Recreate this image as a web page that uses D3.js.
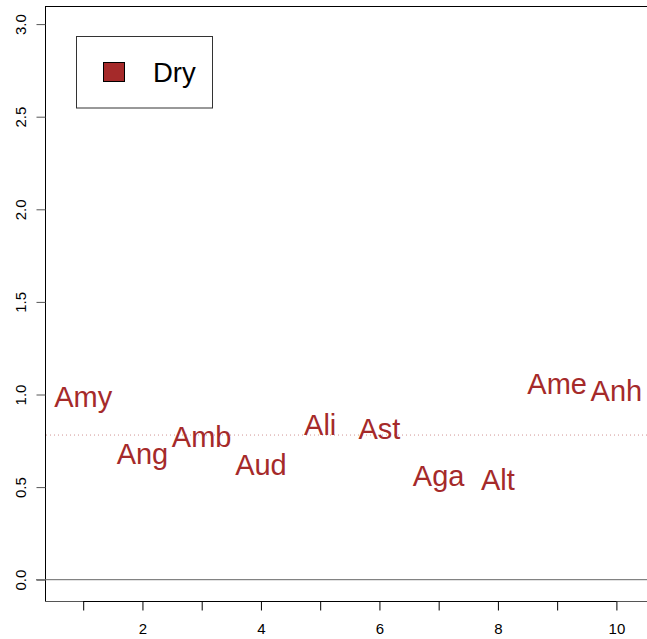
<!DOCTYPE html>
<html>
<head>
<meta charset="utf-8">
<script src="https://cdn.jsdelivr.net/npm/d3@7"></script>
<style>
  html, body { margin: 0; padding: 0; background: #fff; }
  svg { display: block; font-family: "Liberation Sans", Arial, Helvetica, sans-serif; }
</style>
</head>
<body>
<svg id="chart" width="647" height="639"></svg>
<script>
// ---- data ----
const labels = ["Amy", "Ang", "Amb", "Aud", "Ali", "Ast", "Aga", "Alt", "Ame", "Anh"];
const xPos   = [1, 2, 3, 4, 5, 6, 7, 8, 9, 10];
const values = [0.99, 0.682, 0.774, 0.624, 0.840, 0.814, 0.563, 0.540, 1.059, 1.019];
const refLine = 0.781;
const xTicks = [1, 2, 3, 4, 5, 6, 7, 8, 9, 10];
const xTickLabels = [2, 4, 6, 8, 10];
const yTicks = [0, 0.5, 1.0, 1.5, 2.0, 2.5, 3.0];
const legendLabels = ["Dry"];

const W = 647, H = 639;
const plot = { left: 45, top: 6, right: 660, bottom: 601 };
const brown = "#a52a2a";

const svg = d3.select("#chart");

const x = d3.scaleLinear().domain([1, 10]).range([83.2, 616.4]);
const y = d3.scaleLinear().domain([0, 3]).range([579.7, 24.1]);

// box
svg.append("rect")
  .attr("x", plot.left + 0.5).attr("y", plot.top + 0.5)
  .attr("width", plot.right - plot.left).attr("height", plot.bottom - plot.top)
  .attr("fill", "none").attr("stroke", "#555").attr("stroke-width", 1);
svg.append("line")
  .attr("x1", plot.left + 0.5).attr("x2", plot.left + 0.5)
  .attr("y1", plot.top).attr("y2", plot.bottom)
  .attr("stroke", "#000");
svg.append("line")
  .attr("x1", plot.left).attr("x2", W)
  .attr("y1", plot.top + 0.5).attr("y2", plot.top + 0.5)
  .attr("stroke", "#000");

// x axis
const xAxis = d3.axisBottom(x)
  .tickValues(xTicks)
  .tickSize(9)
  .tickPadding(13)
  .tickFormat(d => xTickLabels.includes(d) ? String(d) : "");
const gx = svg.append("g")
  .attr("transform", `translate(0,${plot.bottom + 0.5})`)
  .call(xAxis);
gx.select(".domain").attr("stroke", "#000").attr("d", `M${x(1)},0H${x(10)}`);
gx.selectAll(".tick line").attr("stroke", "#000");
gx.selectAll(".tick text").attr("font-size", 15).attr("fill", "#000")
  .attr("font-family", "Liberation Sans, Arial, sans-serif");

// y axis
const yAxis = d3.axisLeft(y)
  .tickValues(yTicks)
  .tickSize(9)
  .tickFormat(d3.format(".1f"));
const gy = svg.append("g")
  .attr("transform", `translate(${plot.left + 0.5},0)`)
  .call(yAxis);
gy.select(".domain").attr("stroke", "#000").attr("d", `M0,${y(0)}V${y(3)}`);
gy.selectAll(".tick line").attr("stroke", "#555");
gy.selectAll(".tick text")
  .attr("font-size", 15).attr("fill", "#000")
  .attr("font-family", "Liberation Sans, Arial, sans-serif")
  .attr("x", null).attr("dy", null)
  .attr("text-anchor", "middle")
  .attr("transform", "translate(-20,0) rotate(-90)");

// zero line
svg.append("line")
  .attr("x1", 36).attr("x2", W)
  .attr("y1", y(0)).attr("y2", y(0))
  .attr("stroke", "#666").attr("stroke-width", 1);

// reference dotted line
svg.append("line")
  .attr("x1", plot.left + 1).attr("x2", W)
  .attr("y1", y(refLine)).attr("y2", y(refLine))
  .attr("stroke", brown).attr("stroke-opacity", 0.5)
  .attr("stroke-width", 1).attr("stroke-dasharray", "1 3");

// labels
const fs = 29;
svg.append("g").selectAll("text")
  .data(labels)
  .join("text")
  .attr("x", (d, i) => x(xPos[i]))
  .attr("y", (d, i) => y(values[i]) + 0.358 * fs)
  .attr("text-anchor", "middle")
  .attr("font-size", fs)
  .attr("fill", brown)
  .text(d => d);

// legend
const lg = svg.append("g");
lg.append("rect")
  .attr("x", 76.5).attr("y", 36.5).attr("width", 136).attr("height", 71.5)
  .attr("fill", "#fff").attr("stroke", "#333").attr("stroke-width", 1);
legendLabels.forEach((l, i) => {
  lg.append("rect")
    .attr("x", 103.5).attr("y", 62.5).attr("width", 21).attr("height", 19)
    .attr("fill", brown).attr("stroke", "#000").attr("stroke-width", 1);
  lg.append("text")
    .attr("x", 153).attr("y", 82)
    .attr("font-size", 27.5).attr("fill", "#000")
    .text(l);
});
</script>
</body>
</html>
